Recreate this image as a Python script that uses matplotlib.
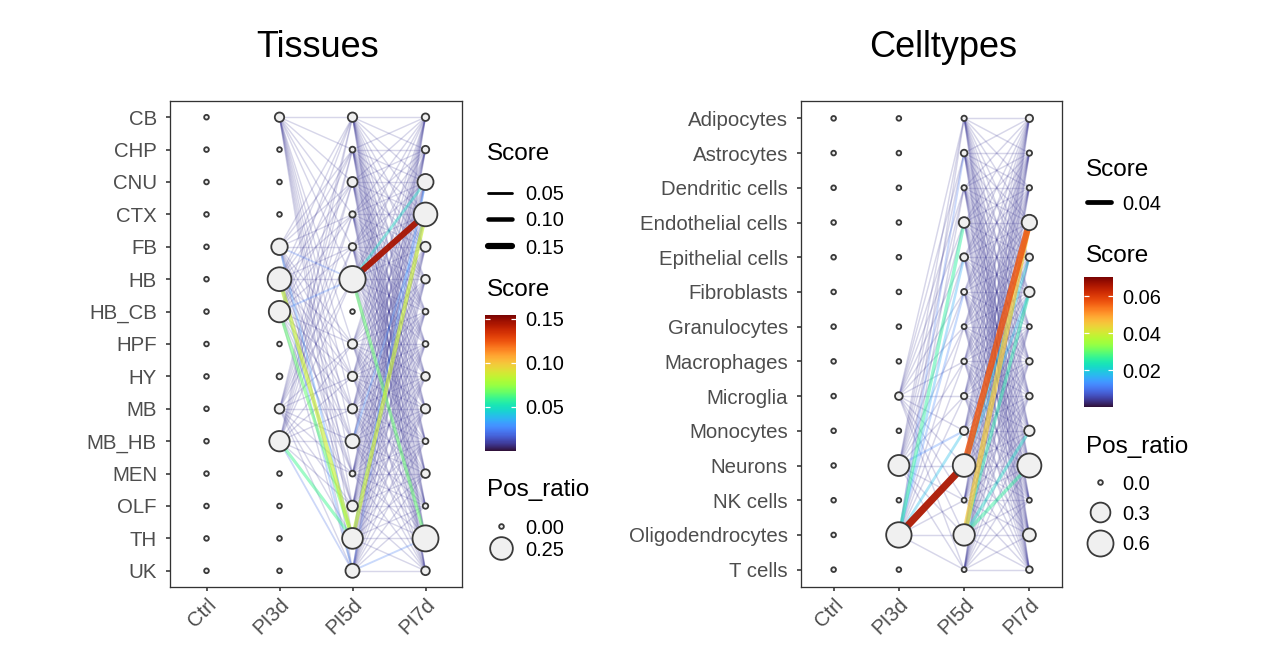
import numpy as np
import matplotlib
matplotlib.use("Agg")
import matplotlib.pyplot as plt
from matplotlib.collections import LineCollection
from matplotlib.colors import Normalize
from matplotlib.lines import Line2D
import matplotlib.cm as cm

plt.rcParams['font.family'] = ['Liberation Sans', 'DejaVu Sans']

W, H, DPI = 1280, 671, 100
PT = 72.0 / DPI  # points per pixel

timepoints = ["Ctrl", "PI3d", "PI5d", "PI7d"]

# ---------------- Tissues ----------------
tissues = ["CB", "CHP", "CNU", "CTX", "FB", "HB", "HB_CB", "HPF", "HY",
           "MB", "MB_HB", "MEN", "OLF", "TH", "UK"]
tis_ratio_ctrl = [0, 0, 0, 0, 0, 0, 0, 0, 0, 0, 0, 0, 0, 0, 0]
tis_ratio_pi3d = [0.017, 0, 0, 0, 0.106, 0.28, 0.215, 0, 0.001, 0.019, 0.19, 0, 0, 0, 0]
tis_ratio_pi5d = [0.017, 0.001, 0.022, 0.002, 0.006, 0.36, 0, 0.017, 0.017, 0.017,
                  0.067, 0.001, 0.028, 0.198, 0.067]
tis_ratio_pi7d = [0.006, 0.006, 0.099, 0.279, 0.022, 0.012, 0.001, 0.001, 0.012, 0.017,
                  0.001, 0.012, 0.0005, 0.35, 0.012]

# background (weak) links: every listed source to every listed target
tis_src_3to5 = ["CB", "FB", "HB", "HB_CB", "MB", "MB_HB"]
tis_dst_3to5 = ["CB", "CHP", "CNU", "CTX", "FB", "HB", "HPF", "HY", "MB", "MB_HB",
                "MEN", "OLF", "TH", "UK"]
tis_src_5to7 = ["CB", "CHP", "CNU", "CTX", "FB", "HB", "HPF", "HY", "MB", "MB_HB",
                "MEN", "OLF", "TH", "UK"]
tis_dst_5to7 = ["CB", "CHP", "CNU", "CTX", "FB", "HB", "HB_CB", "HPF", "HY", "MB",
                "MB_HB", "MEN", "OLF", "TH", "UK"]
tis_weak_score = 0.009

# strong links
tis_hi_t0 = ["PI5d", "PI5d", "PI5d", "PI5d", "PI5d", "PI5d", "PI5d", "PI5d",
             "PI3d", "PI3d", "PI3d", "PI3d", "PI3d", "PI3d", "PI3d", "PI3d"]
tis_hi_src = ["HB", "HB", "HB", "TH", "TH", "MB_HB", "UK", "UK",
              "HB", "HB_CB", "MB_HB", "FB", "FB", "HB_CB", "HB", "MB_HB"]
tis_hi_dst = ["CTX", "CNU", "TH", "CTX", "CNU", "CTX", "TH", "CNU",
              "TH", "TH", "TH", "TH", "HB", "HB", "UK", "UK"]
tis_hi_score = [0.145, 0.048, 0.066, 0.086, 0.03, 0.028, 0.024, 0.02,
                0.086, 0.066, 0.06, 0.03, 0.022, 0.025, 0.028, 0.02]

# ---------------- Celltypes ----------------
celltypes = ["Adipocytes", "Astrocytes", "Dendritic cells", "Endothelial cells",
             "Epithelial cells", "Fibroblasts", "Granulocytes", "Macrophages",
             "Microglia", "Monocytes", "Neurons", "NK cells", "Oligodendrocytes", "T cells"]
cel_ratio_ctrl = [0, 0, 0, 0, 0, 0, 0, 0, 0, 0, 0, 0, 0, 0]
cel_ratio_pi3d = [0, 0, 0, 0, 0, 0, 0, 0, 0.012, 0, 0.351, 0, 0.567, 0]
cel_ratio_pi5d = [0.0006, 0.0053, 0.0006, 0.048, 0.014, 0.0022, 0.0001, 0.0013,
                  0.0038, 0.018, 0.428, 0.0001, 0.369, 0.0001]
cel_ratio_pi7d = [0.0096, 0.0006, 0.0006, 0.151, 0.0096, 0.043, 0.0001, 0.0053,
                  0.0053, 0.043, 0.493, 0.0001, 0.091, 0.0053]

cel_src_3to5 = ["Microglia", "Neurons", "Oligodendrocytes"]
cel_dst_3to5 = list(celltypes)
cel_src_5to7 = list(celltypes)
cel_dst_5to7 = list(celltypes)
cel_weak_score = 0.004

cel_hi_t0 = ["PI3d", "PI3d", "PI3d", "PI3d", "PI3d", "PI3d", "PI3d",
             "PI5d", "PI5d", "PI5d", "PI5d", "PI5d", "PI5d", "PI5d"]
cel_hi_src = ["Oligodendrocytes", "Oligodendrocytes", "Oligodendrocytes", "Oligodendrocytes",
              "Neurons", "Oligodendrocytes", "Oligodendrocytes",
              "Neurons", "Oligodendrocytes", "Oligodendrocytes", "Oligodendrocytes",
              "Oligodendrocytes", "Neurons", "Neurons"]
cel_hi_dst = ["Neurons", "Endothelial cells", "Monocytes", "Epithelial cells",
              "Monocytes", "Astrocytes", "Fibroblasts",
              "Endothelial cells", "Endothelial cells", "Neurons", "Monocytes",
              "Fibroblasts", "Epithelial cells", "Fibroblasts"]
cel_hi_score = [0.066, 0.026, 0.018, 0.016, 0.012, 0.01, 0.012,
                0.057, 0.045, 0.026, 0.022, 0.025, 0.02, 0.018]

# ---------------------------------------------------------------------------
fig = plt.figure(figsize=(W / DPI, H / DPI), dpi=DPI)


def rect(x0, y0, x1, y1):
    return [x0 / W, 1 - y1 / H, (x1 - x0) / W, (y1 - y0) / H]


cmap = plt.get_cmap('turbo')
NODE_LW = 1.8


def draw_panel(ax, cats, ratios, links, hi, weak, vmax, lw_k, size_k):
    n = len(cats)
    yi = {c: i for i, c in enumerate(cats)}
    xi = {t: i + 1 for i, t in enumerate(timepoints)}
    hi_map = {}
    for t0, s, d, sc in zip(*hi):
        t1 = timepoints[timepoints.index(t0) + 1]
        hi_map[(t0, s, t1, d)] = sc
    edges = []
    for t0, t1, srcs, dsts in links:
        for s in srcs:
            for d in dsts:
                key = (t0, s, t1, d)
                edges.append((key, hi_map.pop(key, weak)))
    for key, sc in hi_map.items():
        edges.append((key, sc))
    edges.sort(key=lambda e: e[1])
    norm = Normalize(0, vmax)
    segs, cols, lws = [], [], []
    for (t0, s, t1, d), sc in edges:
        segs.append([(xi[t0], yi[s]), (xi[t1], yi[d])])
        c = list(cmap(norm(sc)))
        c[3] = min(1.0, 0.16 + 0.84 * norm(sc))
        cols.append(c)
        lws.append((1.1 + lw_k * sc) * PT)
    lc = LineCollection(segs, colors=cols, linewidths=lws, capstyle='butt', zorder=2)
    ax.add_collection(lc)
    for t, r in zip(timepoints, ratios):
        r = np.asarray(r, dtype=float)
        d_px = 6.5 + size_k * np.sqrt(r)
        s = ((d_px - NODE_LW) * PT) ** 2
        ax.scatter(np.full(n, xi[t]), np.arange(n), s=s, facecolor='#F0F0F0',
                   edgecolor='#3A3A3A', linewidths=NODE_LW * PT, zorder=3)
    ax.set_xlim(0.5, 4.5)
    ax.set_ylim(n - 0.5, -0.5)
    ax.set_xticks(range(1, 5))
    ax.set_xticklabels(timepoints, rotation=45, ha='right', va='top',
                       rotation_mode='anchor')
    ax.set_yticks(range(n))
    ax.set_yticklabels(cats)
    ax.tick_params(axis='both', length=4 * PT, width=1.6 * PT, color='#333333',
                   labelsize=14.7, labelcolor='#4D4D4D')
    ax.tick_params(axis='y', pad=9 * PT)
    ax.tick_params(axis='x', pad=4 * PT)
    for sp in ax.spines.values():
        sp.set_color('#333333')
        sp.set_linewidth(1.3 * PT)


# ---- tissues panel
ax1 = fig.add_axes(rect(170, 101, 462, 587))
draw_panel(ax1, tissues,
           [tis_ratio_ctrl, tis_ratio_pi3d, tis_ratio_pi5d, tis_ratio_pi7d],
           [("PI3d", "PI5d", tis_src_3to5, tis_dst_3to5),
            ("PI5d", "PI7d", tis_src_5to7, tis_dst_5to7)],
           (tis_hi_t0, tis_hi_src, tis_hi_dst, tis_hi_score),
           tis_weak_score, 0.154, 34, 36)

# ---- celltypes panel
ax2 = fig.add_axes(rect(801, 101, 1062, 587))
draw_panel(ax2, celltypes,
           [cel_ratio_ctrl, cel_ratio_pi3d, cel_ratio_pi5d, cel_ratio_pi7d],
           [("PI3d", "PI5d", cel_src_3to5, cel_dst_3to5),
            ("PI5d", "PI7d", cel_src_5to7, cel_dst_5to7)],
           (cel_hi_t0, cel_hi_src, cel_hi_dst, cel_hi_score),
           cel_weak_score, 0.0705, 92, 27.5)

# ---- overlay for titles and legends (pixel coordinates)
ov = fig.add_axes([0, 0, 1, 1], zorder=-1)
ov.set_xlim(0, W)
ov.set_ylim(H, 0)
ov.axis('off')

ov.text(318, 57, "Tissues", fontsize=26, ha='center', va='baseline', color='black')
ov.text(943, 57, "Celltypes", fontsize=26, ha='center', va='baseline', color='black')


def legend_block(x0, title_y1, line_vals, line_ys, lw_k, cb_title_y, cb_rect, vmax,
                 cb_ticks, cb_fmt, pos_title_y, pos_vals, pos_ys, pos_fmt, size_k, label_x):
    ov.text(x0, title_y1, "Score", fontsize=17.5, ha='left', va='baseline')
    for v, y in zip(line_vals, line_ys):
        ov.add_line(Line2D([x0 + 1, x0 + 25], [y, y], color='black',
                           lw=(1.1 + lw_k * v) * PT, solid_capstyle='round'))
        ov.text(label_x, y, f"{v:.2f}", fontsize=14.4, ha='left', va='center_baseline')
    ov.text(x0, cb_title_y, "Score", fontsize=17.5, ha='left', va='baseline')
    cax = fig.add_axes(rect(*cb_rect))
    sm = cm.ScalarMappable(norm=Normalize(0, vmax), cmap=cmap)
    cb = fig.colorbar(sm, cax=cax)
    cb.outline.set_visible(False)
    cb.set_ticks(cb_ticks)
    cb.set_ticklabels([cb_fmt.format(t) for t in cb_ticks])
    cax.tick_params(direction='in', color='white', length=5 * PT, width=1.2 * PT,
                    left=True, right=True, labelsize=14.4,
                    pad=(label_x - cb_rect[2]) * PT)
    ov.text(x0, pos_title_y, "Pos_ratio", fontsize=17.5, ha='left', va='baseline')
    for v, y in zip(pos_vals, pos_ys):
        d_px = 6.5 + size_k * np.sqrt(v)
        ov.scatter([x0 + 14], [y], s=((d_px - NODE_LW) * PT) ** 2, facecolor='#F0F0F0',
                   edgecolor='#3A3A3A', linewidths=NODE_LW * PT)
        ov.text(label_x, y, pos_fmt.format(v), fontsize=14.4, ha='left',
                va='center_baseline')


legend_block(487, 160, [0.05, 0.10, 0.15], [193, 219, 246], 34,
             296, (485, 315, 516, 451), 0.154, [0.05, 0.10, 0.15], "{:.2f}",
             496, [0.0, 0.25], [526, 548], "{:.2f}", 36, 525)

legend_block(1086, 176, [0.04], [202], 92,
             262, (1084, 277, 1113, 407), 0.0705, [0.02, 0.04, 0.06], "{:.2f}",
             453, [0.0, 0.3, 0.6], [482, 512, 543], "{:.1f}", 27.5, 1122)

fig.savefig("out.png", dpi=DPI)
